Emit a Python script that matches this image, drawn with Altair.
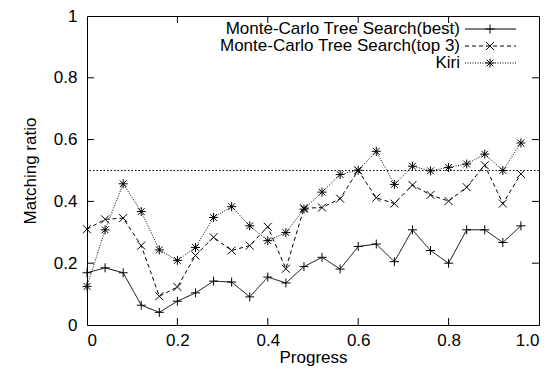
import altair as alt
import pandas as pd

progress = [0.00, 0.04, 0.08, 0.12, 0.16, 0.20, 0.24, 0.28, 0.32, 0.36, 0.40, 0.44,
            0.48, 0.52, 0.56, 0.60, 0.64, 0.68, 0.72, 0.76, 0.80, 0.84, 0.88, 0.92, 0.96]
best = [0.169, 0.185, 0.169, 0.064, 0.041, 0.077, 0.104, 0.142, 0.139, 0.091, 0.155, 0.136,
        0.189, 0.219, 0.181, 0.254, 0.262, 0.205, 0.308, 0.241, 0.200, 0.308, 0.308, 0.267, 0.321]
top3 = [0.310, 0.342, 0.346, 0.257, 0.093, 0.123, 0.225, 0.284, 0.241, 0.257, 0.318, 0.182,
        0.378, 0.380, 0.409, 0.500, 0.412, 0.393, 0.453, 0.421, 0.401, 0.446, 0.517, 0.393, 0.489]
kiri = [0.125, 0.308, 0.457, 0.367, 0.243, 0.209, 0.251, 0.348, 0.383, 0.321, 0.273, 0.299,
        0.375, 0.430, 0.487, 0.501, 0.562, 0.455, 0.514, 0.499, 0.510, 0.521, 0.553, 0.500, 0.589]
names = ["Monte-Carlo Tree Search(best)", "Monte-Carlo Tree Search(top 3)", "Kiri"]
tick_values = [0.2, 0.4, 0.6, 0.8]
reference_level = 0.5

FONT = "Liberation Sans"
W, H = 452, 309
PLUS = "M-1,0L1,0M0,-1L0,1"
CROSS = "M-1,-1L1,1M-1,1L1,-1"
STAR = "M-1,0L1,0M0,-1L0,1M-0.75,-0.75L0.75,0.75M-0.75,0.75L0.75,-0.75"
shapes = [PLUS, CROSS, STAR]
dashes = [[1, 0], [4, 3], [1, 1.5]]
sizes = [81, 64, 81]

rows = []
for name, vals in zip(names, [best, top3, kiri]):
    for p, v in zip(progress, vals):
        rows.append({"series": name, "progress": p, "ratio": v})
df = pd.DataFrame(rows)

xs = alt.Scale(domain=[0, 1], nice=False, zero=False)
ys = alt.Scale(domain=[0, 1], nice=False, zero=False)

x_enc = alt.X("progress:Q", scale=xs, title="Progress",
              axis=alt.Axis(values=[0, 0.2, 0.4, 0.6, 0.8, 1.0],
                            labelExpr="datum.value == 0 ? '0' : format(datum.value, '.1f')",
                            labelPadding=7, titlePadding=1))
y_enc = alt.Y("ratio:Q", scale=ys, title="Matching ratio",
              axis=alt.Axis(values=[0, 0.2, 0.4, 0.6, 0.8, 1.0],
                            labelExpr="datum.value == 0 ? '0' : datum.value == 1 ? '1' : format(datum.value, '.1f')",
                            labelPadding=10, titlePadding=14))

dash_scale = alt.Scale(domain=names, range=dashes)

lines = alt.Chart(df).mark_line(color="black", strokeWidth=1).encode(
    x=x_enc, y=y_enc,
    detail="series:N",
    strokeDash=alt.StrokeDash("series:N", scale=dash_scale, legend=None),
)

point_layers = []
for name, shp, sz in zip(names, shapes, sizes):
    point_layers.append(
        alt.Chart(df[df.series == name]).mark_point(
            shape=shp, filled=False, size=sz, stroke="black", strokeWidth=1, opacity=1
        ).encode(x="progress:Q", y="ratio:Q")
    )

ref_line = alt.Chart(pd.DataFrame({"level": [reference_level]})).mark_rule(
    color="black", strokeWidth=1, strokeDash=[1.5, 2]
).encode(y="level:Q")

tick_df = pd.DataFrame({"t": tick_values})
TL = 7
ticks = [
    alt.Chart(tick_df).mark_rule(color="black").encode(x="t:Q", y=alt.value(H), y2=alt.value(H - TL)),
    alt.Chart(tick_df).mark_rule(color="black").encode(x="t:Q", y=alt.value(0), y2=alt.value(TL)),
    alt.Chart(tick_df).mark_rule(color="black").encode(y="t:Q", x=alt.value(0), x2=alt.value(TL)),
    alt.Chart(tick_df).mark_rule(color="black").encode(y="t:Q", x=alt.value(W), x2=alt.value(W - TL)),
]

legend_layers = []
row_y = [13, 30, 47]
for name, ry, dsh, shp, sz in zip(names, row_y, dashes, shapes, sizes):
    one = pd.DataFrame({"label": [name]})
    legend_layers.append(
        alt.Chart(one).mark_text(align="right", baseline="middle", font=FONT, fontSize=17, color="black")
        .encode(text="label:N", x=alt.value(373), y=alt.value(ry))
    )
    legend_layers.append(
        alt.Chart(one).mark_rule(color="black", strokeWidth=1, strokeDash=dsh)
        .encode(x=alt.value(378), x2=alt.value(429), y=alt.value(ry))
    )
    legend_layers.append(
        alt.Chart(one).mark_point(shape=shp, filled=False, size=sz, stroke="black", strokeWidth=1, opacity=1)
        .encode(x=alt.value(403), y=alt.value(ry))
    )

chart = alt.layer(lines, *point_layers, ref_line, *ticks, *legend_layers).properties(
    width=W, height=H,
    autosize=alt.AutoSizeParams(type="none"),
    padding={"left": 79, "top": 8, "right": 10, "bottom": 48},
).configure_view(
    stroke="black", strokeWidth=1
).configure_axis(
    grid=False, ticks=False, domain=False,
    labelFont=FONT, labelFontSize=17, labelColor="black",
    titleFont=FONT, titleFontSize=17, titleFontWeight="normal", titleColor="black",
)

chart.save("out.html", embed_options={"renderer": "svg", "actions": False})
